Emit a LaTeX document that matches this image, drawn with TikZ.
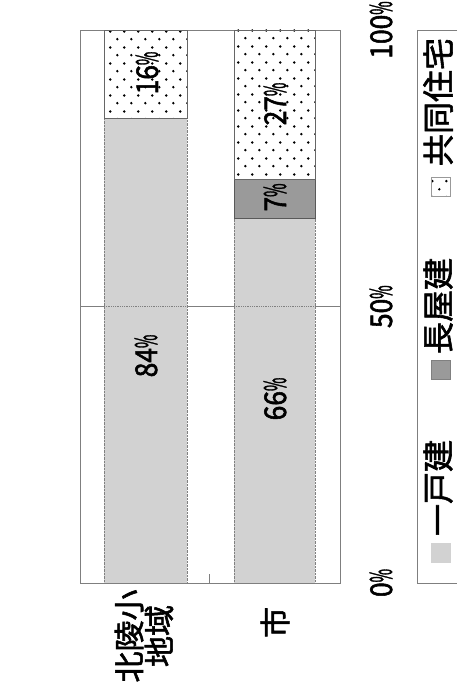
\documentclass[tikz,border=0pt]{standalone}
\usepackage{fontspec}
\usepackage{graphicx}
\setmainfont{Noto Sans CJK JP}[FakeBold=1.8]
\newfontfamily\numfont{Noto Sans CJK JP}[FakeBold=1.8, FakeStretch=0.88]
\usetikzlibrary{patterns}
\definecolor{lgray}{HTML}{D2D2D2}
\definecolor{mgray}{HTML}{9A9A9A}
\definecolor{framegray}{HTML}{7F7F7F}
\pgfdeclarepatternformonly{sparsedots}{\pgfpointorigin}{\pgfqpoint{14.3pt}{15.6pt}}{\pgfqpoint{14.3pt}{15.6pt}}{%
  \pgfpathcircle{\pgfqpoint{3.5pt}{3.9pt}}{1.35pt}%
  \pgfpathcircle{\pgfqpoint{10.65pt}{11.7pt}}{1.35pt}%
  \pgfusepath{fill}}
\newcommand\pct{\scalebox{0.55}[1]{\%}}
\tikzset{
  onebar/.style={fill=lgray, draw=gray, densely dotted},
  rowbar/.style={fill=mgray, draw=black!65, line width=0.8pt},
  aptbar/.style={pattern=sparsedots, draw=black!60, line width=0.6pt},
  numlbl/.style={rotate=90, font=\numfont\fontsize{30}{30}\selectfont, inner sep=0pt},
  catlbl/.style={rotate=90, font=\fontsize{31}{30}\selectfont, align=center, inner sep=0pt},
  leglbl/.style={rotate=90, font=\fontsize{32}{32}\selectfont, inner sep=0pt},
  swatch/.style={minimum size=19pt, inner sep=0pt},
  axisline/.style={draw=framegray, line width=0.8pt}
}
\begin{document}
\begin{tikzpicture}[x=1pt,y=-1pt]
\useasboundingbox (0,0) rectangle (457,700);
% plot frame
\draw[axisline] (80,30) rectangle (340,583);
\draw[axisline] (80,306.7) -- (340,306.7);
% bar 1
\path[onebar] (104,583) rectangle (187,118.5);
\path[aptbar] (104,118.5) rectangle (187,30);
% bar 2
\path[onebar] (234,583) rectangle (315,218);
\path[rowbar] (234,218) rectangle (315,179.3);
\path[aptbar] (234,179.3) rectangle (315,30);
% gridline through bars
\draw[gray, densely dotted, line width=0.8pt] (104,306.7) -- (187,306.7) (234,306.7) -- (315,306.7);
\draw[axisline] (80,583) -- (340,583);
\draw[axisline] (209.7,574) -- (209.7,583);
% value labels
\node[numlbl] (p16) at (147,73) {16\pct};
\node[numlbl] (p27) at (275,104) {27\pct};
\node[numlbl] (p7) at (275,197.5) {7\pct};
\node[numlbl] (p84) at (146,356) {84\pct};
\node[numlbl] (p66) at (275,399) {66\pct};
% axis labels
\node[numlbl] (t100) at (381,30) {100\pct};
\node[numlbl] (t50) at (381,306.7) {50\pct};
\node[numlbl] (t0) at (381,583) {0\pct};
% category labels
\node[catlbl] (c1) at (144,636) {北陵小\\地域};
\node[catlbl] (c2) at (275,622.5) {市};
% legend
\draw[axisline] (457,30) -- (417,30) -- (417,583) -- (457,583);
\node[swatch, fill=lgray, draw=lgray] (s1) at (440.5,553) {};
\node[leglbl] (l1) at (438,488) {一戸建};
\node[swatch, fill=mgray, draw=black!50] (s2) at (440.5,370) {};
\node[leglbl] (l2) at (438,306) {長屋建};
\node[swatch, pattern=sparsedots, draw=black!40] (s3) at (440.5,187) {};
\node[leglbl] (l3) at (438,102) {共同住宅};
\end{tikzpicture}
\end{document}
